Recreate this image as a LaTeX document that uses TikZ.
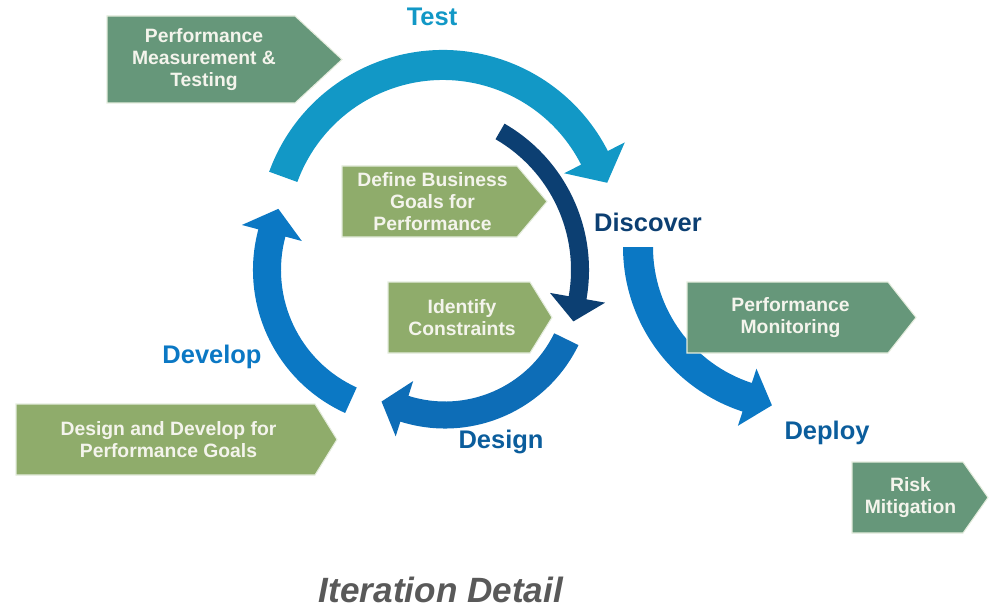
\documentclass[tikz,border=0pt]{standalone}
\usepackage{fontspec}
\setmainfont{Liberation Sans}
\usepackage{xcolor}
\definecolor{testblue}{HTML}{1298C6}
\definecolor{devblue}{HTML}{0B78C4}
\definecolor{designblue}{HTML}{0D6DB7}
\definecolor{discnavy}{HTML}{0C3F72}
\definecolor{tealbox}{HTML}{66977A}
\definecolor{olivebox}{HTML}{8FAC6B}
\definecolor{boxedge}{HTML}{E4ECDD}
\definecolor{boxtextc}{HTML}{F4F4EC}
\definecolor{titlegray}{HTML}{595959}
\usepackage{tikz}

% circular arrow: colour, centre, radius, width, start, end, head half width, head length, turn
\newcommand{\cyclearrow}[9]{%
  \fill[#1, shift={#2}]
    (#5:{#3+#4/2}) arc[start angle=#5, end angle=#6, radius={#3+#4/2}]
    -- (#6:{#3+#7}) -- ([shift={({#6#9}:#8)}]#6:#3) -- (#6:{#3-#7})
    -- (#6:{#3-#4/2}) arc[start angle=#6, end angle=#5, radius={#3-#4/2}]
    -- cycle;}

% pointed box: name, fill, left, top, body right, tip, bottom, text
\newcommand{\pointbox}[8]{%
  \filldraw[fill=#2, draw=boxedge, line width=0.6pt]
    (#3,-#4) -- (#5,-#4) -- (#6,{-(#4+#7)/2}) -- (#5,-#7) -- (#3,-#7) -- cycle;
  \node[boxtext] (#1) at ({(#3+#5)/2+3},{-(#4+#7)/2}) {#8};}

\begin{document}
\begin{tikzpicture}[
  x=0.02cm, y=0.02cm,
  boxtext/.style={align=center, text=boxtextc, inner sep=0pt,
    font=\fontsize{11}{12.5}\selectfont\bfseries},
  phase/.style={inner sep=0pt, font=\fontsize{14.5}{16}\selectfont\bfseries}
]
\useasboundingbox (0,0) rectangle (1000,-611);

% the cycle
\cyclearrow{discnavy}{(420,-270)}{160}{18}{60}{-10}{28}{24}{-90}
\cyclearrow{testblue}{(443,-235)}{170}{30}{160}{27}{34}{28}{-90}
\cyclearrow{devblue}{(410,-270)}{143}{28}{245.6}{165}{31}{25}{-90}
\cyclearrow{designblue}{(445,-280)}{135}{27}{-26}{-107.5}{29}{24}{-90}
\cyclearrow{devblue}{(796,-247)}{158}{30}{180}{252}{30}{26}{+90}

% phase labels
\node[phase, text=testblue] (test) at (432,-17) {Test};
\node[phase, text=discnavy] (discover) at (648,-222) {Discover};
\node[phase, text=devblue] (develop) at (212,-357) {Develop};
\node[phase, text=designblue!85!black] (design) at (501,-442) {Design};
\node[phase, text=designblue!85!black] (deploy) at (827,-433) {Deploy};

% activities
\pointbox{pmt}{tealbox}{107}{16}{295}{342}{103}{Performance\\Measurement \&\\Testing}
\pointbox{goals}{olivebox}{342}{166}{517}{547}{237}{Define Business\\Goals for\\Performance}
\pointbox{constr}{olivebox}{388}{282}{530}{552}{353}{Identify\\Constraints}
\pointbox{ddpg}{olivebox}{16}{404}{315}{337}{475}{Design and Develop for\\Performance Goals}
\pointbox{monit}{tealbox}{687}{282}{888}{916}{353}{Performance\\Monitoring}
\pointbox{risk}{tealbox}{852}{462}{963}{988}{533}{Risk\\Mitigation}

\node[text=titlegray, font=\fontsize{20}{24}\selectfont\bfseries\itshape] (title)
  at (441,-590) {Iteration Detail};
\end{tikzpicture}
\end{document}
